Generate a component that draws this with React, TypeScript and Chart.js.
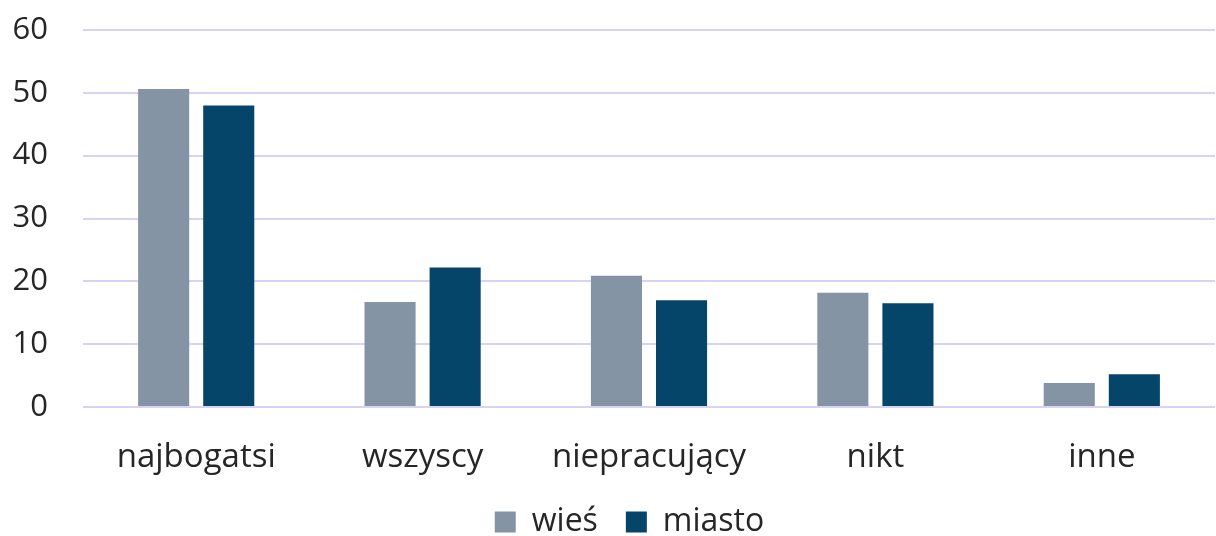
import React, { useEffect, useRef } from "react";
import { Chart, registerables } from "chart.js";

Chart.register(...registerables);

const categories = ["najbogatsi", "wszyscy", "niepracujący", "nikt", "inne"];
const wiesValues = [50.6, 16.7, 20.9, 18.2, 3.8];
const miastoValues = [48.0, 22.2, 17.0, 16.5, 5.2];
const seriesNames = ["wieś", "miasto"];
const yTicks = [0, 10, 20, 30, 40, 50, 60];

const legendShift = {
  id: "legendShift",
  beforeDraw(chart: any) {
    if (chart.legend) {
      chart.legend.left = 44;
    }
  },
};

export default function App() {
  const ref = useRef<HTMLCanvasElement | null>(null);
  useEffect(() => {
    if (!ref.current) return;
    const font = "'Open Sans', 'Noto Sans', sans-serif";
    const chart = new Chart(ref.current, {
      type: "bar",
      data: {
        labels: categories,
        datasets: [
          {
            label: seriesNames[0],
            data: wiesValues,
            backgroundColor: "#8494A5",
            categoryPercentage: 0.575,
            barPercentage: 0.785,
          },
          {
            label: seriesNames[1],
            data: miastoValues,
            backgroundColor: "#05456A",
            categoryPercentage: 0.575,
            barPercentage: 0.785,
          },
        ],
      },
      options: {
        animation: false,
        responsive: true,
        maintainAspectRatio: false,
        layout: { padding: { top: 30, right: 1, left: 0, bottom: -12 } },
        plugins: {
          tooltip: { enabled: false },
          legend: {
            position: "bottom",
            labels: {
              font: { family: font, size: 32 },
              color: "#262626",
              boxWidth: 21,
              boxHeight: 21,
              padding: 28,
            },
          },
        },
        scales: {
          x: {
            grid: { display: false },
            border: { display: false },
            ticks: {
              font: { family: font, size: 33 },
              color: "#262626",
              padding: 23,
              maxRotation: 0,
              autoSkip: false,
            },
            afterFit: (s: any) => {
              s.paddingLeft = 0;
              s.paddingRight = 0;
              s.height = 71;
            },
          },
          y: {
            min: 0,
            max: 60,
            afterBuildTicks: (axis: any) => {
              axis.ticks = yTicks.map((v) => ({ value: v }));
            },
            grid: { color: "#D8D3F4", lineWidth: 2, drawTicks: false },
            border: { display: false },
            ticks: {
              font: { family: font, size: 31 },
              color: "#262626",
              padding: 35,
            },
            afterFit: (s: any) => {
              s.paddingTop = 0;
              s.paddingBottom = 0;
              s.width = 83;
            },
          },
        },
      },
      plugins: [legendShift],
    });
    return () => chart.destroy();
  }, []);
  return (
    <div style={{ position: "fixed", left: 0, top: 0, width: 1216, height: 536, background: "#fff" }}>
      <canvas ref={ref} />
    </div>
  );
}
